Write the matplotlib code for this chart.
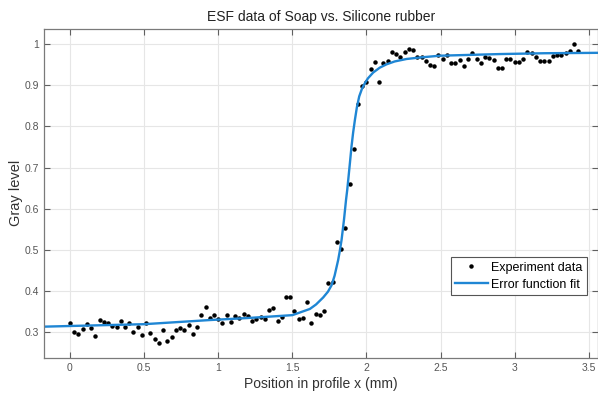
import numpy as np
import matplotlib
matplotlib.use("Agg")
import matplotlib.pyplot as plt

plt.rcParams['font.family'] = ['Liberation Sans', 'DejaVu Sans']

# experiment data, spacing 1/35 mm
step = 1 / 35
gray = [0.321, 0.299, 0.295, 0.307, 0.319, 0.310, 0.291, 0.328, 0.324, 0.321,
        0.315, 0.312, 0.326, 0.311, 0.321, 0.299, 0.312, 0.293, 0.321, 0.297,
        0.284, 0.274, 0.306, 0.279, 0.289, 0.305, 0.309, 0.305, 0.316, 0.294,
        0.311, 0.341, 0.362, 0.335, 0.341, 0.332, 0.321, 0.341, 0.324, 0.340,
        0.333, 0.344, 0.339, 0.327, 0.332, 0.337, 0.332, 0.354, 0.359, 0.327,
        0.337, 0.386, 0.384, 0.350, 0.332, 0.335, 0.372, 0.321, 0.343, 0.341,
        0.352, 0.418, 0.422, 0.518, 0.502, 0.552, 0.659, 0.745, 0.855, 0.899,
        0.908, 0.940, 0.956, 0.907, 0.955, 0.959, 0.981, 0.975, 0.968, 0.981,
        0.989, 0.987, 0.970, 0.969, 0.958, 0.950, 0.948, 0.973, 0.964, 0.974,
        0.954, 0.954, 0.962, 0.946, 0.964, 0.979, 0.964, 0.955, 0.968, 0.966,
        0.962, 0.943, 0.943, 0.964, 0.964, 0.956, 0.956, 0.964, 0.982, 0.978,
        0.968, 0.960, 0.960, 0.960, 0.972, 0.973, 0.973, 0.978, 0.984, 1.000,
        0.984]
pos = np.arange(len(gray)) * step

# error function fit
fit_x = [-0.175, 0.0, 0.5, 0.94, 1.2, 1.5, 1.618, 1.66, 1.708, 1.74, 1.765,
         1.785, 1.809, 1.82, 1.832, 1.84, 1.848, 1.862, 1.87, 1.877, 1.888,
         1.899, 1.91, 1.922, 1.935, 1.951, 1.97, 1.989, 2.01, 2.045, 2.09,
         2.135, 2.19, 2.27, 2.37, 2.495, 2.7, 2.9, 3.2, 3.56]
fit_y = [0.313, 0.3146, 0.319, 0.329, 0.334, 0.341, 0.356, 0.367, 0.384, 0.398,
         0.414, 0.437, 0.475, 0.497, 0.524, 0.548, 0.572, 0.621, 0.645, 0.670,
         0.710, 0.751, 0.785, 0.816, 0.846, 0.873, 0.892, 0.905, 0.917, 0.931,
         0.943, 0.951, 0.958, 0.964, 0.968, 0.972, 0.974, 0.976, 0.978, 0.979]

fig = plt.figure(figsize=(5.98, 3.97), dpi=100)
ax = fig.add_axes([0.0736, 0.099, 0.926, 0.828])

ax.plot(pos, gray, 'o', color='black', ms=2.2, label='Experiment data')
ax.plot(fit_x, fit_y, color='#1f86d4', lw=1.7, label='Error function fit')

ax.set_xlim(-0.175, 3.56)
ax.set_ylim(0.2375, 1.037)
ax.set_xticks([0, 0.5, 1, 1.5, 2, 2.5, 3, 3.5])
ax.set_xticklabels(['0', '0.5', '1', '1.5', '2', '2.5', '3', '3.5'])
ax.set_yticks([0.3, 0.4, 0.5, 0.6, 0.7, 0.8, 0.9, 1])
ax.set_yticklabels(['0.3', '0.4', '0.5', '0.6', '0.7', '0.8', '0.9', '1'])

ax.grid(True, color='#e6e6e6', lw=0.8)
ax.set_axisbelow(True)
ax.tick_params(direction='in', top=True, right=True, length=4, width=0.8,
               colors='#606060', labelsize=7.5, labelcolor='#555555')
for s in ax.spines.values():
    s.set_color('#7a7a7a')
    s.set_linewidth(0.9)

ax.set_title('ESF data of Soap vs. Silicone rubber', fontsize=10, color='#222222', pad=6)
ax.set_xlabel('Position in profile x (mm)', fontsize=10, color='#333333', labelpad=3)
ax.set_ylabel('Gray level', fontsize=10.5, color='#333333', labelpad=1)

leg = ax.legend(loc='lower right', bbox_to_anchor=(0.981, 0.191), borderaxespad=0,
                fontsize=9, fancybox=False, framealpha=1, edgecolor='#555555',
                handlelength=2.6, handletextpad=0.3, borderpad=0.35,
                labelspacing=0.4, markerscale=1.0)
leg.get_frame().set_linewidth(0.8)

fig.savefig('out.png', dpi=100)
